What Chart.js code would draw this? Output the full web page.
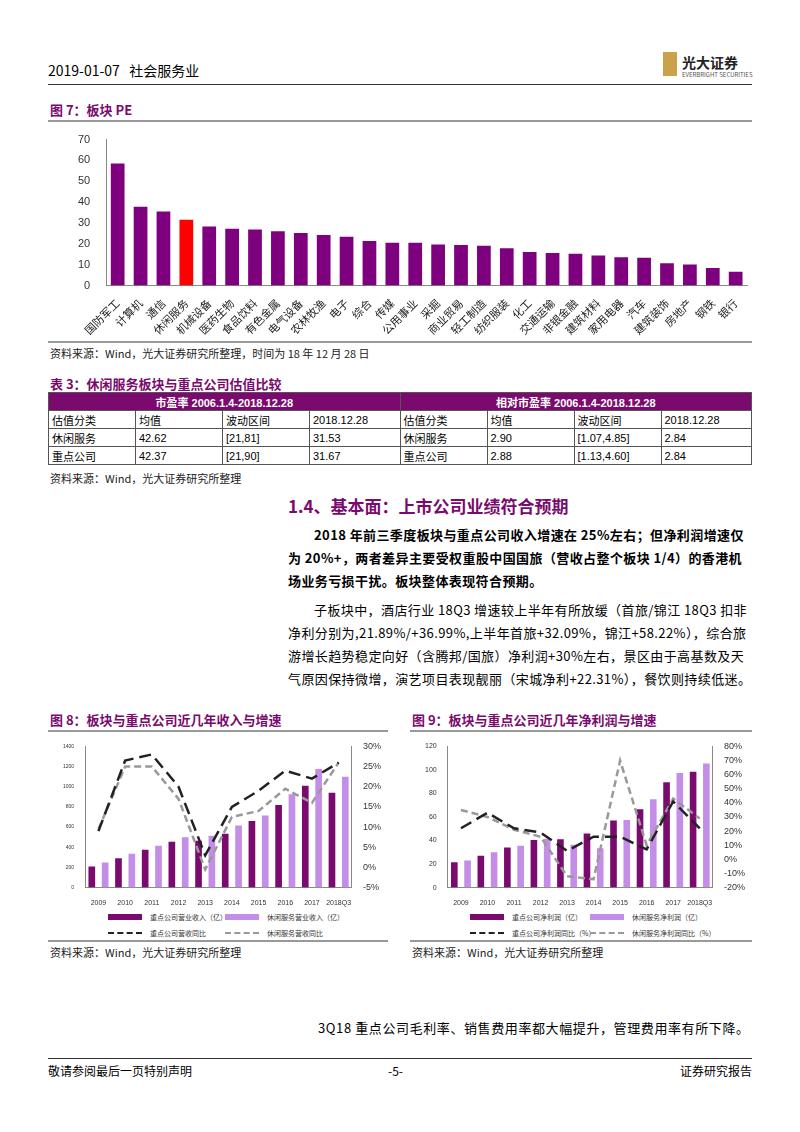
<!DOCTYPE html>
<html><head><meta charset="utf-8">
<script src="https://cdn.jsdelivr.net/npm/chart.js@4"></script>
<style>
body{margin:0;width:800px;height:1132px;background:#fff;font-family:"Noto Sans CJK SC",sans-serif;position:relative;overflow:hidden;color:#000}
.a{position:absolute}
.t{font-size:13px;font-weight:bold;color:#7a0a6e}
.src{font-size:11px;color:#222}
table{border-collapse:collapse;font-size:11px}
td{border:1px solid #555;height:17px;padding:0 3px;font-family:"Liberation Sans","Noto Sans CJK SC",sans-serif}
p{margin:0;font-size:13px;line-height:23px;font-family:"Noto Sans CJK SC",serif;text-indent:2em;letter-spacing:0.4px}
.lg{font-size:7px;color:#333;display:flex;align-items:center;white-space:nowrap}
</style></head><body>
<div class="a" style="left:48px;top:60px;font-size:14px">2019-01-07&nbsp;&nbsp;&nbsp;社会服务业</div>
<div class="a" style="left:663px;top:52px;width:14px;height:24px;background:#c9a24a"></div>
<div class="a" style="left:682px;top:52px;font-size:14px;font-weight:bold;color:#222">光大证券</div>
<div class="a" style="left:682px;top:70px;font-size:6px;color:#555">EVERBRIGHT SECURITIES</div>
<div class="a" style="left:48px;top:84px;width:704px;border-top:1px solid #333"></div>
<div class="a t" style="left:50px;top:100px">图 7：板块 PE</div>
<div class="a" style="left:48px;top:120px;width:704px;border-top:2px solid #999"></div>
<div class="a" style="left:48px;top:125px;width:700px;height:215px"><canvas id="c1"></canvas></div>
<div class="a" style="left:48px;top:341px;width:704px;border-top:2px solid #999"></div>
<div class="a src" style="left:50px;top:345px">资料来源：Wind，光大证券研究所整理，时间为 18 年 12 月 28 日</div>
<div class="a t" style="left:50px;top:374px">表 3：休闲服务板块与重点公司估值比较</div>
<table class="a" style="left:48px;top:392px;width:704px">
<tr style="background:#7a0a6e;color:#fff;font-weight:bold"><td colspan="4" style="text-align:center">市盈率 2006.1.4-2018.12.28</td><td colspan="4" style="text-align:center">相对市盈率 2006.1.4-2018.12.28</td></tr>
<tr><td style="width:80px">估值分类</td><td style="width:80px">均值</td><td style="width:80px">波动区间</td><td>2018.12.28</td><td style="width:80px">估值分类</td><td style="width:80px">均值</td><td style="width:80px">波动区间</td><td>2018.12.28</td></tr>
<tr><td>休闲服务</td><td>42.62</td><td>[21,81]</td><td>31.53</td><td>休闲服务</td><td>2.90</td><td>[1.07,4.85]</td><td>2.84</td></tr>
<tr><td>重点公司</td><td>42.37</td><td>[21,90]</td><td>31.67</td><td>重点公司</td><td>2.88</td><td>[1.13,4.60]</td><td>2.84</td></tr>
</table>
<div class="a src" style="left:50px;top:470px">资料来源：Wind，光大证券研究所整理</div>
<div class="a" style="left:288px;top:493px;font-size:17px;font-weight:bold;color:#7a0a6e">1.4、基本面：上市公司业绩符合预期</div>
<div class="a" style="left:288px;top:523px;width:466px">
<p style="font-weight:bold">2018 年前三季度板块与重点公司收入增速在 25%左右；但净利润增速仅为 20%+，两者差异主要受权重股中国国旅（营收占整个板块 1/4）的香港机场业务亏损干扰。板块整体表现符合预期。</p>
<p style="margin-top:6px">子板块中，酒店行业 18Q3 增速较上半年有所放缓（首旅/锦江 18Q3 扣非净利分别为,21.89%/+36.99%,上半年首旅+32.09%，锦江+58.22%），综合旅游增长趋势稳定向好（含腾邦/国旅）净利润+30%左右，景区由于高基数及天气原因保持微增，演艺项目表现靓丽（宋城净利+22.31%），餐饮则持续低迷。</p>
</div>
<div class="a t" style="left:50px;top:710px">图 8：板块与重点公司近几年收入与增速</div>
<div class="a t" style="left:412px;top:710px">图 9：板块与重点公司近几年净利润与增速</div>
<div class="a" style="left:48px;top:730px;width:340px;border-top:2px solid #999"></div>
<div class="a" style="left:410px;top:730px;width:342px;border-top:2px solid #999"></div>
<div class="a" style="left:52px;top:738px;width:332px;height:172px"><canvas id="c2"></canvas></div>
<div class="a" style="left:414px;top:738px;width:334px;height:172px"><canvas id="c3"></canvas></div>
<div class="a lg" style="left:108px;top:912px"><span style="display:inline-block;width:34px;height:6px;background:#7a0a6e;margin-right:8px"></span>重点公司营业收入（亿）</div>
<div class="a lg" style="left:225px;top:912px"><span style="display:inline-block;width:34px;height:6px;background:#c48de8;margin-right:8px"></span>休闲服务营业收入（亿）</div>
<div class="a lg" style="left:108px;top:928px"><span style="display:inline-block;width:34px;border-top:2px dashed #222;margin-right:8px"></span>重点公司营收同比</div>
<div class="a lg" style="left:225px;top:928px"><span style="display:inline-block;width:34px;border-top:2px dashed #999;margin-right:8px"></span>休闲服务营收同比</div>
<div class="a lg" style="left:470px;top:912px"><span style="display:inline-block;width:34px;height:6px;background:#7a0a6e;margin-right:8px"></span>重点公司净利润（亿）</div>
<div class="a lg" style="left:590px;top:912px"><span style="display:inline-block;width:34px;height:6px;background:#c48de8;margin-right:8px"></span>休闲服务净利润（亿）</div>
<div class="a lg" style="left:470px;top:928px"><span style="display:inline-block;width:34px;border-top:2px dashed #222;margin-right:8px"></span>重点公司净利润同比（%）</div>
<div class="a lg" style="left:590px;top:928px"><span style="display:inline-block;width:34px;border-top:2px dashed #999;margin-right:8px"></span>休闲服务净利润同比（%）</div>
<div class="a" style="left:48px;top:940px;width:340px;border-top:2px solid #999"></div>
<div class="a" style="left:410px;top:940px;width:342px;border-top:2px solid #999"></div>
<div class="a src" style="left:50px;top:944px">资料来源：Wind，光大证券研究所整理</div>
<div class="a src" style="left:412px;top:944px">资料来源：Wind，光大证券研究所整理</div>
<div class="a" style="left:318px;top:1018px;font-size:13px;letter-spacing:0.6px">3Q18 重点公司毛利率、销售费用率都大幅提升，管理费用率有所下降。</div>
<div class="a" style="left:48px;top:1058px;width:704px;border-top:1px solid #333"></div>
<div class="a" style="left:48px;top:1062px;font-size:12px">敬请参阅最后一页特别声明</div>
<div class="a" style="left:388px;top:1062px;font-size:12px">-5-</div>
<div class="a" style="left:680px;top:1062px;font-size:12px">证券研究报告</div>
<script>
const sectors=["国防军工","计算机","通信","休闲服务","机械设备","医药生物","食品饮料","有色金属","电气设备","农林牧渔","电子","综合","传媒","公用事业","采掘","商业贸易","轻工制造","纺织服装","化工","交通运输","非银金融","建筑材料","家用电器","汽车","建筑装饰","房地产","钢铁","银行"];
const pe=[58.5,37.8,35.5,31.5,28.3,27.2,26.9,26.0,25.2,24.3,23.4,21.4,20.5,20.5,19.7,19.4,19.1,17.9,16.1,15.6,15.3,14.4,13.6,13.3,10.7,10.1,8.4,6.6];
const years=["2009","2010","2011","2012","2013","2014","2015","2016","2017","2018Q3"];
const revKey=[210,290,375,455,465,535,660,820,1010,940];
const revSec=[250,335,415,500,515,615,715,925,1175,1100];
const revKeyG=[9,26.5,28,20,3,15,19,24,22,26];
const revSecG=[9.5,25,25,17,-0.5,12.5,14,19.5,16,26];
const npKey=[21.5,27,34,40.5,41,46,57,66.5,89.5,98.5];
const npSec=[23,30,35.5,41.5,36.5,33.5,57.5,75,97.5,105.5];
const npKeyG=[22,33,22,19,6,16,16,7,41,22];
const npSecG=[35,30,21,16,-12,-14,70,10,43,29];
Chart.defaults.animation=false;
Chart.defaults.font.family='"Liberation Sans","Noto Sans CJK SC",sans-serif';
Chart.defaults.color='#333';
new Chart(document.getElementById('c1'),{type:'bar',data:{labels:sectors,datasets:[{data:pe,backgroundColor:sectors.map(s=>s==='休闲服务'?'#ff0000':'#7f007f'),barPercentage:0.6,categoryPercentage:1}]},
options:{responsive:true,maintainAspectRatio:false,plugins:{legend:{display:false},tooltip:{enabled:false}},layout:{padding:{left:22,right:0,top:4}},
scales:{x:{grid:{display:false},border:{color:'#888'},ticks:{autoSkip:false,maxRotation:45,minRotation:45,font:{size:11,family:'"Noto Sans CJK SC"'},color:'#222'}},
y:{min:0,max:70,ticks:{stepSize:10,font:{size:11},padding:8},grid:{display:false},border:{color:'#888'}}}}});
function combo(id,a,b,ga,gb,ymax,ystep,rmin,rmax,rstep,lf){
new Chart(document.getElementById(id),{data:{labels:years,datasets:[
{type:'line',data:ga,yAxisID:'y1',borderColor:'#222',borderWidth:2.5,borderDash:[12,6],pointRadius:0,tension:0},
{type:'line',data:gb,yAxisID:'y1',borderColor:'#999',borderWidth:2.5,borderDash:[7,4],pointRadius:0,tension:0},
{type:'bar',data:a,yAxisID:'y',backgroundColor:'#7a0a6e',barPercentage:0.5,categoryPercentage:1},
{type:'bar',data:b,yAxisID:'y',backgroundColor:'#c48de8',barPercentage:0.5,categoryPercentage:1}]},
options:{responsive:true,maintainAspectRatio:false,plugins:{legend:{display:false},tooltip:{enabled:false}},layout:{padding:{left:8}},
scales:{x:{grid:{display:false},border:{color:'#888'},ticks:{autoSkip:false,maxRotation:0,minRotation:0,font:{size:7}}},
y:{min:0,max:ymax,ticks:{stepSize:ystep,font:{size:lf},callback:v=>String(v)},grid:{display:false},border:{color:'#888'}},
y1:{position:'right',min:rmin,max:rmax,ticks:{autoSkip:false,stepSize:rstep,font:{size:9},callback:v=>v+'%'},grid:{display:false},border:{color:'#888'}}}}});}
combo('c2',revKey,revSec,revKeyG,revSecG,1400,200,-5,30,5,5);
combo('c3',npKey,npSec,npKeyG,npSecG,120,20,-20,80,10,7);
</script></body></html>
